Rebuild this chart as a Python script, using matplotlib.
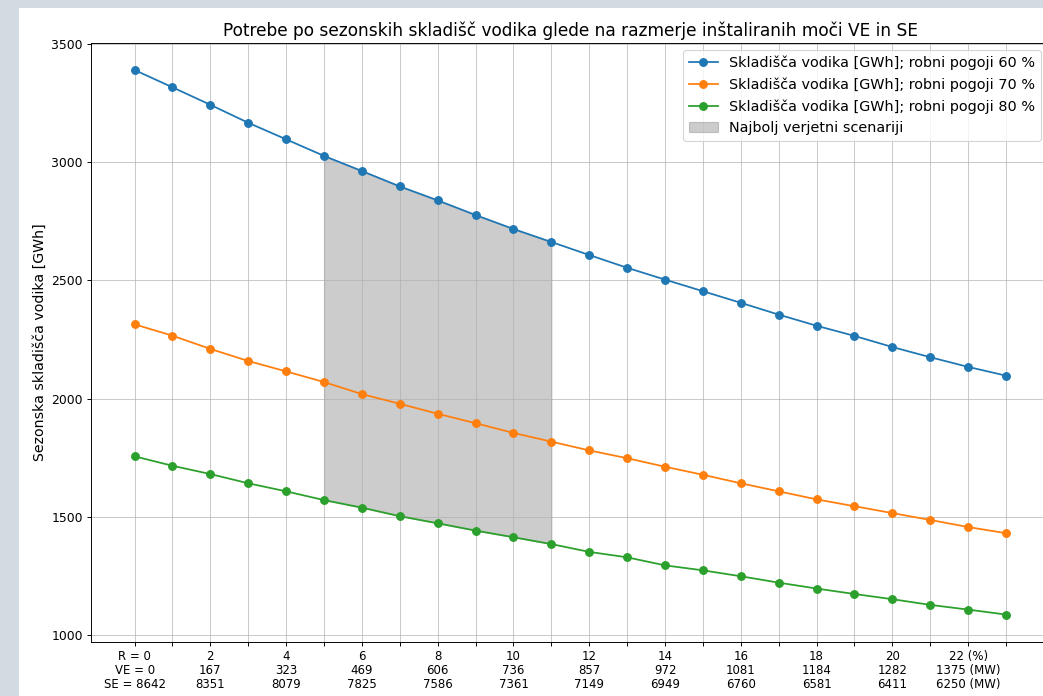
import matplotlib
matplotlib.use("Agg")
import matplotlib.pyplot as plt
from matplotlib.patches import Rectangle
import numpy as np

# ---- data ----
R_pct = list(range(24))
h2_60 = [3389, 3316, 3242, 3166, 3096, 3026, 2962, 2897, 2838, 2776, 2717, 2662,
         2607, 2553, 2503, 2454, 2405, 2355, 2308, 2265, 2218, 2175, 2134, 2097]
h2_70 = [2314, 2266, 2210, 2159, 2115, 2070, 2019, 1978, 1936, 1896, 1855, 1818,
         1781, 1748, 1712, 1678, 1642, 1608, 1574, 1545, 1516, 1487, 1457, 1431]
h2_80 = [1756, 1716, 1681, 1642, 1608, 1571, 1539, 1503, 1473, 1442, 1414, 1385,
         1352, 1329, 1295, 1274, 1249, 1222, 1197, 1174, 1152, 1128, 1108, 1087]
likely_start, likely_end = 5, 11

tick_R = ["R = 0", "2", "4", "6", "8", "10", "12", "14", "16", "18", "20", "22 (%)"]
tick_VE = ["VE = 0", "167", "323", "469", "606", "736", "857", "972", "1081", "1184", "1282", "1375 (MW)"]
tick_SE = ["SE = 8642", "8351", "8079", "7825", "7586", "7361", "7149", "6949", "6760", "6581", "6411", "6250 (MW)"]

labels = ["Skladišča vodika [GWh]; robni pogoji 60 %",
          "Skladišča vodika [GWh]; robni pogoji 70 %",
          "Skladišča vodika [GWh]; robni pogoji 80 %"]

# ---- figure ----
W, H, DPI = 1043, 696, 85
fig = plt.figure(figsize=(W / DPI, H / DPI), dpi=DPI, facecolor="#d3dbe2")
fig.patches.append(Rectangle((19 / W, 0), 1 - 19 / W, 1 - 8 / H, transform=fig.transFigure,
                             facecolor="white", edgecolor="none", zorder=-10))

ax = fig.add_axes([91 / W, 1 - 641.8 / H, (1049.6 - 91) / W, (641.8 - 42.8) / H])

x = np.array(R_pct)
ax.plot(x, h2_60, marker="o", markersize=6.5, label=labels[0])
ax.plot(x, h2_70, marker="o", markersize=6.5, label=labels[1])
ax.plot(x, h2_80, marker="o", markersize=6.5, label=labels[2])
sl = slice(likely_start, likely_end + 1)
ax.fill_between(x[sl], np.array(h2_80)[sl], np.array(h2_60)[sl], color="gray", alpha=0.4,
                label="Najbolj verjetni scenariji")

ax.set_xticks(x)
xt = []
for i in x:
    if i % 2 == 0:
        k = i // 2
        xt.append(f"{tick_R[k]}\n{tick_VE[k]}\n{tick_SE[k]}")
    else:
        xt.append("")
ax.set_xticklabels(xt, fontsize=10, linespacing=1.12)
ax.set_yticks([1000, 1500, 2000, 2500, 3000, 3500])
ax.tick_params(axis="y", labelsize=10.5)

ax.grid(True, alpha=0.7)
ax.set_ylabel("Sezonska skladišča vodika [GWh]", fontsize=12)
ax.set_title("Potrebe po sezonskih skladišč vodika glede na razmerje inštaliranih moči VE in SE",
             fontsize=14.4)
ax.legend(loc="upper right", fontsize=12.2, bbox_to_anchor=(1041 / W, 1 - 50 / H),
          bbox_transform=fig.transFigure, borderaxespad=0)

fig.savefig("out.png", dpi=DPI, facecolor=fig.get_facecolor())
